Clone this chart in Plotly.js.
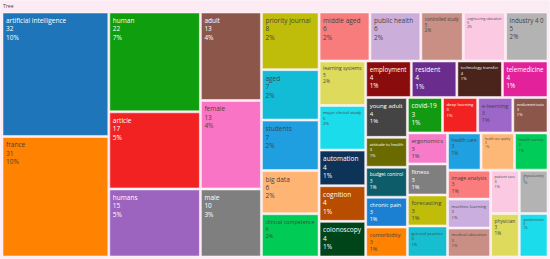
<!DOCTYPE html>
<html>
<head>
<meta charset="utf-8">
<script src="https://cdn.plot.ly/plotly-3.0.1.min.js"></script>
<style>html,body{margin:0;padding:0;background:#fff;}#chart{width:550px;height:259px;}</style>
</head>
<body>
<div id="chart"></div>
<script>
const rootLabel = "Tree";
const keywords = [
  "artificial intelligence","france","human","article","humans","adult","female","male",
  "priority journal","aged","students","big data","clinical competence","middle aged","public health",
  "controlled study","engineering education","industry 4 0","learning systems","major clinical study",
  "automation","cognition","colonoscopy","employment","resident","technology transfer","telemedicine","young adult",
  "attitude to health","budget control","chronic pain","comorbidity","covid-19","deep learning","e-learning","endometriosis",
  "ergonomics","fitness","forecasting","general practice","health care","health care quality","health survey",
  "image analysis","machine learning","medical education","patient care","physical activity","physician","questionnaire"
];
const counts = [
  32,31,22,17,15,13,13,10,
  8,7,7,6,6,6,6,
  5,5,5,5,5,
  4,4,4,4,4,4,4,4,
  3,3,3,3,3,3,3,3,
  3,3,3,3,3,3,3,
  3,3,3,3,3,3,3
];

// tile fill colours (style), one per keyword, same order
const tileColors = [
  "#1f75b9","#ff8200","#0e9e0e","#f32222","#9c63bf","#8c564b","#fa74c6","#7f7f7f",
  "#bfbd0a","#12bcd6","#1f9fe0","#feb574","#00cc55","#f87c7c","#ccaedb",
  "#c98f85","#fbc9e2","#b3b3b3","#dedb5c","#1adcea",
  "#0d3358","#b84d00","#00451a","#8b0c0c","#6a2d8e","#4a231b","#e3219b","#444444",
  "#6a6a00","#0d5c6a","#1b80d2","#ff8200","#139a13","#f22222","#9d66c9","#8c564b",
  "#f77bc9","#7f7f7f","#bfbd0a","#17bed0","#1fa0e0","#fdb878","#00cc5a",
  "#fa7c7c","#cbaee0","#c98f85","#fbc9e2","#b3b3b3","#dedb5c","#1adcea"
];
const rootColor = "#fdebf3";

const labels = [rootLabel].concat(keywords);
const parents = [""].concat(keywords.map(() => rootLabel));
const values = [0].concat(counts);
const colors = [rootColor].concat(tileColors);
const templates = ["%{label}"].concat(keywords.map(() => "%{label}<br>%{value}<br>%{percentRoot:.0%}"));

const trace = {
  type: "treemap",
  labels: labels,
  parents: parents,
  values: values,
  branchvalues: "remainder",
  sort: true,
  texttemplate: templates,
  textposition: "top left",
  textfont: {family: "Open Sans, DejaVu Sans, sans-serif", size: 6.5},
  hoverinfo: "label+value+percent root",
  marker: {
    colors: colors,
    pad: {t: 13, l: 3, r: 3, b: 3},
    line: {width: 0.5, color: "#ffffff"}
  },
  tiling: {packing: "squarify", squarifyratio: 1, pad: 2},
  pathbar: {visible: false}
};

const layout = {
  width: 550,
  height: 259,
  margin: {l: 0, r: 0, t: 0, b: 0},
  paper_bgcolor: "#ffffff",
  font: {family: "Open Sans, DejaVu Sans, sans-serif", size: 6.5, color: "#444"}
};

Plotly.newPlot("chart", [trace], layout, {displayModeBar: false, staticPlot: true});
</script>
</body>
</html>
